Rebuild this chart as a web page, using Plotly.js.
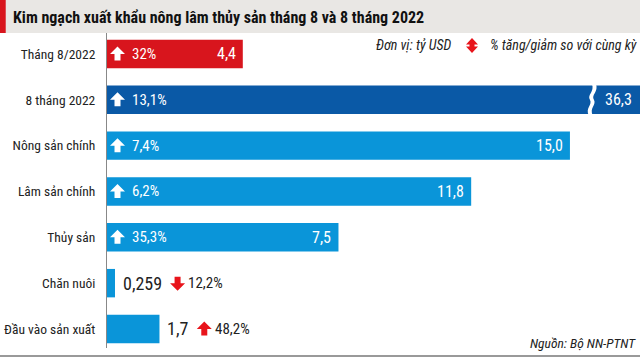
<!DOCTYPE html>
<html><head><meta charset="utf-8">
<script src="https://cdn.plot.ly/plotly-3.0.1.min.js"></script>
<style>body{margin:0;background:#fff}#c{width:640px;height:357px}</style>
</head><body><div id="c"></div>
<script>
const categories = ['Tháng 8/2022','8 tháng 2022','Nông sản chính','Lâm sản chính','Thủy sản','Chăn nuôi','Đầu vào sản xuất'];
const values = [4.4, 36.3, 15.0, 11.8, 7.5, 0.259, 1.7];
const changes = [32, 13.1, 7.4, 6.2, 35.3, -12.2, 48.2];
const barColors = ['#d8151d','#0a59a6','#0a95d9','#0a95d9','#0a95d9','#0a95d9','#0a95d9'];
const insideLabel = [true, true, true, true, true, false, false];
const titleText = 'Kim ngạch xuất khẩu nông lâm thủy sản tháng 8 và 8 tháng 2022';
const unitText = 'Đơn vị: tỷ USD';
const legendText = '% tăng/giảm so với cùng kỳ';
const sourceText = 'Nguồn: Bộ NN-PTNT';

const XMAX = 17.27;
const FONT = '"Liberation Sans Narrow", "Roboto Condensed", "Arial Narrow", Roboto, sans-serif';
const RED = '#e8141b';
const fmtVal = v => (v < 1 ? v.toFixed(3) : v.toFixed(1)).replace('.', ',');
const fmtPct = v => String(Math.abs(v)).replace('.', ',') + '%';
const ctx = document.createElement('canvas').getContext('2d');
const measure = (t, size) => { ctx.font = size + 'px ' + FONT; return ctx.measureText(t).width; };

// block arrow path (pixel units, y up), left edge at dx
const upPath = dx => `M ${dx} 0 L ${dx+7.5} 7.5 L ${dx+15} 0 L ${dx+10.5} 0 L ${dx+10.5} -6.5 L ${dx+4.5} -6.5 L ${dx+4.5} 0 Z`;
const downPath = dx => `M ${dx} 0 L ${dx+7.5} -7.5 L ${dx+15} 0 L ${dx+10.5} 0 L ${dx+10.5} 6.5 L ${dx+4.5} 6.5 L ${dx+4.5} 0 Z`;
const arrowShape = (xa, ya, dx, up, color, xref, yref) => ({type: 'path', xref: xref || 'x', yref: yref || 'y',
  xsizemode: 'pixel', ysizemode: 'pixel', xanchor: xa, yanchor: ya,
  path: up ? upPath(dx) : downPath(dx), fillcolor: color, line: {width: 0}});

const annotations = [];
const shapes = [];
categories.forEach((c, i) => {
  const up = changes[i] >= 0;
  if (insideLabel[i]) {
    shapes.push(arrowShape(0, i, 3, up, '#fff'));
    annotations.push({x: 0, y: c, xref: 'x', yref: 'y', xanchor: 'left', xshift: 23, showarrow: false,
      text: fmtPct(changes[i]), font: {family: FONT, size: 15, color: '#fff'}});
    const clipped = values[i] > XMAX;
    annotations.push({x: clipped ? XMAX : values[i], y: c, xref: 'x', yref: 'y', xanchor: 'right',
      xshift: clipped ? -6 : -5, showarrow: false, text: fmtVal(values[i]),
      font: {family: FONT, size: 16, color: '#fff'}});
    if (clipped) {
      shapes.push({type: 'path', xref: 'x', yref: 'y', xsizemode: 'pixel', ysizemode: 'pixel',
        xanchor: XMAX * 0.906, yanchor: i,
        path: 'M -1 -16 C -5 -8, 3 -5, 0 0 C -3 5, 5 8, 2 16 L 6 16 C 9 8, 1 5, 4 0 C 7 -5, -1 -8, 3 -16 Z',
        fillcolor: '#fff', line: {width: 0}});
    }
  } else {
    const vt = fmtVal(values[i]);
    const w = measure(vt, 18);
    annotations.push({x: values[i], y: c, xref: 'x', yref: 'y', xanchor: 'left', xshift: 6, showarrow: false,
      text: vt, font: {family: FONT, size: 18, color: '#222'}});
    shapes.push(arrowShape(values[i], i, 6 + w + 10, up, RED));
    annotations.push({x: values[i], y: c, xref: 'x', yref: 'y', xanchor: 'left', xshift: 6 + w + 26, showarrow: false,
      text: fmtPct(changes[i]), font: {family: FONT, size: 15, color: '#222'}});
  }
});

annotations.push({xref: 'paper', yref: 'paper', x: 1, y: 1, yshift: -12, xanchor: 'right', yanchor: 'middle', xshift: -187,
  showarrow: false, font: {family: FONT, size: 14, color: '#222'}, text: '<i>' + unitText + '</i>'});
annotations.push({xref: 'paper', yref: 'paper', x: 1, y: 1, yshift: -12, xanchor: 'right', yanchor: 'middle', xshift: -1,
  showarrow: false, font: {family: FONT, size: 14, color: '#222'}, text: '<i>' + legendText + '</i>'});
shapes.push({type: 'path', xref: 'paper', yref: 'paper', xsizemode: 'pixel', ysizemode: 'pixel', xanchor: 1, yanchor: 1,
  path: 'M -174 -11.5 L -168 -5 L -162 -11.5 L -165.5 -11.5 L -165.5 -13.5 L -162 -13.5 L -168 -20 L -174 -13.5 L -170.5 -13.5 L -170.5 -11.5 Z',
  fillcolor: RED, line: {width: 0}});
annotations.push({xref: 'paper', yref: 'paper', x: 1, y: 0, xanchor: 'right', yanchor: 'bottom', xshift: -2, yshift: -5,
  showarrow: false, font: {family: FONT, size: 13.5, color: '#222'}, text: '<i>' + sourceText + '</i>'});

shapes.unshift(
  {type: 'rect', xref: 'paper', yref: 'paper', x0: -0.3, x1: 1.05, y0: 1.0, y1: 1.2, fillcolor: '#e9e7e4', line: {width: 0}, layer: 'below'},
  {type: 'rect', xref: 'paper', yref: 'paper', x0: -0.3, x1: -0.19, y0: 1.0, y1: 1.2, fillcolor: '#d8151d', line: {width: 0}},
  {type: 'line', xref: 'paper', yref: 'paper', x0: -0.3, x1: 1.05, y0: -0.025, y1: -0.025, line: {color: '#999', width: 2}}
);

Plotly.newPlot('c', [{
  type: 'bar', orientation: 'h', y: categories, x: values,
  marker: {color: barColors, line: {width: 0}}, hoverinfo: 'none'
}], {
  width: 640, height: 357,
  margin: {l: 107, r: 0, t: 33, b: 9, pad: 0},
  paper_bgcolor: '#fff', plot_bgcolor: '#fff',
  bargap: 0.38,
  showlegend: false,
  title: {text: '<b>' + titleText + '</b>', x: 13 / 640, xanchor: 'left', xref: 'container', yref: 'container', y: 1 - 17 / 357, yanchor: 'middle',
    font: {family: FONT, size: 16, color: '#111'}},
  xaxis: {range: [0, XMAX], visible: false, fixedrange: true},
  yaxis: {type: 'category', range: [6.415, -0.458], showline: true, linecolor: '#888', linewidth: 1,
    showgrid: false, zeroline: false, ticks: '', ticklabelstandoff: 8,
    tickfont: {family: FONT, size: 13.5, color: '#222'}},
  annotations: annotations, shapes: shapes
}, {staticPlot: true});
</script></body></html>
